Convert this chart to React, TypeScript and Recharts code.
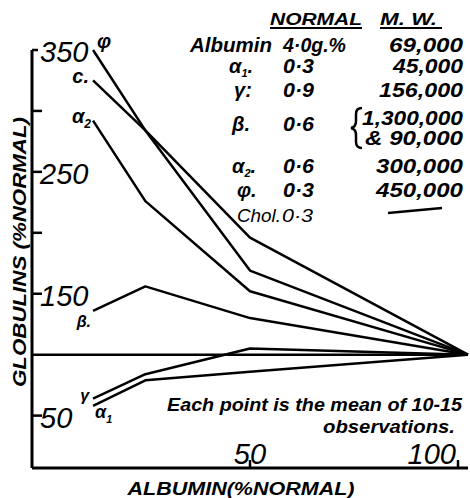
import { LineChart, Line, XAxis, YAxis, ReferenceLine, LabelList } from "recharts";

// albumin (% of normal) at which each mean was taken
const albumin = [14, 26, 50, 100];

// globulin fractions (% of normal)
const phi = [350, 284, 169, 100];
const chol = [325, 284, 196, 100];
const alpha2 = [292, 226, 152, 100];
const beta = [136, 156, 130, 100];
const gamma = [64, 84, 105, 100];
const alpha1 = [58, 79, 86, 100];

const yTicks = [50, 100, 150, 200, 250, 300, 350];
const yTickLabels = [50, 150, 250, 350];
const xTicks = [50, 100];

// table at top right
const fractions = ["Albumin", "α1", "γ", "β", "α2", "φ", "Chol."];
const normalLevels = ["4·0g.%", "0·3", "0·9", "0·6", "0·6", "0·3", "0·3"];
const molWeights = [["69,000"], ["45,000"], ["156,000"], ["1,300,000", "& 90,000"], ["300,000"], ["450,000"], []];

const data = albumin.map((a, i) => ({
  albumin: a,
  phi: phi[i],
  chol: chol[i],
  alpha2: alpha2[i],
  beta: beta[i],
  gamma: gamma[i],
  alpha1: alpha1[i],
}));

const FONT = "'Liberation Sans', Arial, sans-serif";

const series = [
  { key: "phi", name: "φ", sub: "", dx: 4, dy: -2, anchor: "start", size: 20 },
  { key: "chol", name: "c.", sub: "", dx: -4, dy: 3, anchor: "end", size: 20 },
  { key: "alpha2", name: "α", sub: "2", dx: -2, dy: 2, anchor: "end", size: 20 },
  { key: "beta", name: "β.", sub: "", dx: -2, dy: 16, anchor: "end", size: 16 },
  { key: "gamma", name: "γ", sub: "", dx: -4, dy: 2, anchor: "end", size: 16 },
  { key: "alpha1", name: "α", sub: "1", dx: 2, dy: 12, anchor: "start", size: 18 },
];

function T({ x, y, w, size = 20, bold = true, anchor = "start", children }: any) {
  return (
    <text
      x={x}
      y={y}
      fontSize={size}
      fontStyle="italic"
      fontWeight={bold ? 700 : 400}
      fontFamily={FONT}
      textAnchor={anchor}
      textLength={w}
      lengthAdjust={w ? "spacingAndGlyphs" : undefined}
      fill="#000"
    >
      {children}
    </text>
  );
}

function YTick({ x, y, payload }: any) {
  const v = payload.value;
  return (
    <g>
      {v !== 100 && (
        <line x1={x} x2={x + (v === 350 ? 6 : 10)} y1={y} y2={y} stroke="#000" strokeWidth={2.5} />
      )}
      {yTickLabels.includes(v) && (
        <text x={x + 8} y={y + 12} fontSize={29} fontStyle="italic" fontFamily={FONT} fill="#000">
          {v}
        </text>
      )}
    </g>
  );
}

function XTick({ x, y, payload }: any) {
  const v = payload.value;
  const last = v === xTicks[xTicks.length - 1];
  return (
    <g>
      <line x1={x} x2={x} y1={y} y2={y - 8} stroke="#000" strokeWidth={2.5} />
      <text
        x={last ? x - 2 : x}
        y={y - 4}
        fontSize={29}
        fontStyle="italic"
        fontFamily={FONT}
        textAnchor={last ? "end" : "middle"}
        fill="#000"
      >
        {v}
      </text>
    </g>
  );
}

function seriesLabel(s: any) {
  return (p: any) => {
    if (p.index !== 0) return null;
    const x = p.viewBox?.x ?? p.x;
    const y = p.viewBox?.y ?? p.y;
    return (
      <text
        x={x + s.dx}
        y={y + s.dy}
        fontSize={s.size}
        fontStyle="italic"
        fontWeight={700}
        fontFamily={FONT}
        textAnchor={s.anchor}
        fill="#000"
      >
        {s.name}
        {s.sub && (
          <tspan fontSize={s.size * 0.6} dy={5}>
            {s.sub}
          </tspan>
        )}
      </text>
    );
  };
}

// table layout
const rowY = [52, 73, 97, 131, 173, 197, 222];
const labelX = [190, 229, 234, 232, 232, 237, 237];
const mwWidth = [74, 70, 84, 0, 87, 87, 0];

export default function App() {
  return (
    <div style={{ position: "absolute", left: 0, top: 0, width: 470, height: 498, background: "#fff" }}>
      <LineChart width={470} height={498} data={data} margin={{ top: 50, right: 2, bottom: 30, left: 32 }}>
        <XAxis
          dataKey="albumin"
          type="number"
          domain={[0, 100]}
          ticks={xTicks}
          mirror
          height={1}
          tickSize={0}
          tickMargin={0}
          tickLine={false}
          tick={<XTick />}
          axisLine={{ stroke: "#000", strokeWidth: 3 }}
        />
        <YAxis
          type="number"
          domain={[7, 350]}
          ticks={yTicks}
          mirror
          width={1}
          tickSize={0}
          tickMargin={0}
          tickLine={false}
          tick={<YTick />}
          axisLine={{ stroke: "#000", strokeWidth: 3 }}
        />
        <ReferenceLine y={100} stroke="#000" strokeWidth={2.5} />
        {series.map((s) => (
          <Line
            key={s.key}
            dataKey={s.key}
            type="linear"
            stroke="#000"
            strokeWidth={2.5}
            strokeLinejoin="round"
            dot={false}
            isAnimationActive={false}
          >
            <LabelList dataKey={s.key} content={seriesLabel(s)} />
          </Line>
        ))}
      </LineChart>
      <svg width={470} height={498} style={{ position: "absolute", left: 0, top: 0, pointerEvents: "none" }}>
        {/* axis titles */}
        <g transform="translate(26,252) rotate(-90)">
          <T x={0} y={0} w={270} size={19} anchor="middle">GLOBULINS (%NORMAL)</T>
        </g>
        <T x={241} y={495} w={227} size={18} anchor="middle">ALBUMIN(%NORMAL)</T>

        {/* note */}
        <T x={167} y={411} w={295} size={19}>Each point is the mean of 10-15</T>
        <T x={455} y={433} w={132} size={19} anchor="end">observations.</T>

        {/* table header */}
        <T x={270} y={25} w={92} size={16}>NORMAL</T>
        <line x1={270} x2={362} y1={28} y2={28} stroke="#000" strokeWidth={2} />
        <T x={380} y={25} w={57} size={16}>M. W.</T>
        <line x1={380} x2={442} y1={28} y2={28} stroke="#000" strokeWidth={2} />

        {fractions.map((f, i) => {
          const isChol = i === fractions.length - 1;
          const greek = f === "α1" || f === "α2";
          return (
            <g key={f}>
              <T x={labelX[i]} y={rowY[i]} w={i === 0 ? 82 : isChol ? 44 : undefined} size={isChol ? 18 : 20} bold={!isChol}>
                {greek ? f[0] : f}
                {greek && (
                  <tspan fontSize={11} dy={4}>
                    {f[1]}
                  </tspan>
                )}
                {i === 0 || isChol ? "" : <tspan dy={greek ? -4 : 0}>{i === 2 ? ":" : "."}</tspan>}
              </T>
              <T x={isChol ? 282 : 283} y={rowY[i]} w={i === 0 ? 63 : 31} size={isChol ? 18 : 20} bold={!isChol}>
                {normalLevels[i]}
              </T>
              {molWeights[i].length === 1 && (
                <T x={463} y={rowY[i]} w={mwWidth[i]} size={20} anchor="end">
                  {molWeights[i][0]}
                </T>
              )}
              {molWeights[i].length === 2 && (
                <g>
                  <path
                    d="M362 108 Q356 108 356 114 L356 121 Q356 127 351 128 Q356 129 356 135 L356 142 Q356 148 362 148"
                    fill="none"
                    stroke="#000"
                    strokeWidth={2.5}
                  />
                  <T x={463} y={rowY[i] - 6} w={101} size={20} anchor="end">
                    {molWeights[i][0]}
                  </T>
                  <T x={463} y={rowY[i] + 14} w={98} size={20} anchor="end">
                    {molWeights[i][1]}
                  </T>
                </g>
              )}
              {isChol && <line x1={388} y1={213} x2={442} y2={208} stroke="#000" strokeWidth={2.5} />}
            </g>
          );
        })}
      </svg>
    </div>
  );
}
